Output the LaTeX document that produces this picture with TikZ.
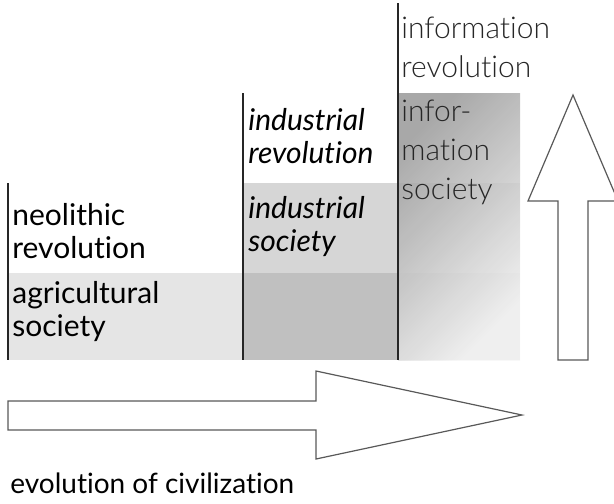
\documentclass[tikz,border=0pt]{standalone}
\usepackage{fontspec}
\setmainfont{Lato}[Ligatures=NoCommon]
\newfontfamily\lightfont{Lato Light}[Ligatures=NoCommon]
\definecolor{infodark}{gray}{0.6}
\definecolor{infolight}{gray}{0.97}
\tikzset{
  era/.style={
    anchor=north west,
    inner sep=0pt,
    align=left,
    font=\fontsize{15}{16.5}\selectfont
  },
  infoera/.style={
    era,
    text=black!85,
    font=\lightfont\fontsize{15}{19.5}\selectfont
  },
  band/.style={fill=black, fill opacity=#1},
  divider/.style={line width=1pt, black!85},
  bigarrow/.style={draw=black!65, line width=0.6pt, fill=white}
}
\begin{document}
\begin{tikzpicture}[x=0.5pt, y=-0.5pt]
  \useasboundingbox (0,0) rectangle (614,503);

  % society bands
  \fill[band=0.1] (8,273) rectangle (520,360);
  \fill[band=0.16] (243,183) rectangle (520,360);
  \shade[top color=infodark, bottom color=infolight, shading angle=45,
    fill opacity=0.85] (398,93) rectangle (520,360);

  % revolutions
  \draw[divider] (8,183) -- (8,360);
  \draw[divider] (243,93) -- (243,360);
  \draw[divider] (398,3) -- (398,360);

  \node (neo) [era] at (12,203) {neolithic\\revolution};
  \node (agri) [era] at (12,281) {agricultural\\society};
  \node (indrev) [era, font=\itshape\fontsize{15}{16.5}\selectfont] at (248,108) {industrial\\revolution};
  \node (indsoc) [era, font=\itshape\fontsize{15}{16.5}\selectfont] at (248,196) {industrial\\society};
  \node (inforev) [infoera] at (401,17) {information\\revolution};
  \node (infosoc) [infoera] at (401,100) {infor-\\mation\\society};

  % arrows
  \draw[bigarrow] (8,401) -- (316,401) -- (316,371) -- (522,415)
    -- (316,459) -- (316,430) -- (8,430) -- cycle;
  \draw[bigarrow] (558,360) -- (558,201) -- (528,201) -- (573,95)
    -- (618,201) -- (588,201) -- (588,360) -- cycle;

  \node (evo) [anchor=base west, inner sep=0pt, font=\fontsize{14}{17}\selectfont]
    at (10,493) {evolution of civilization};
\end{tikzpicture}
\end{document}
